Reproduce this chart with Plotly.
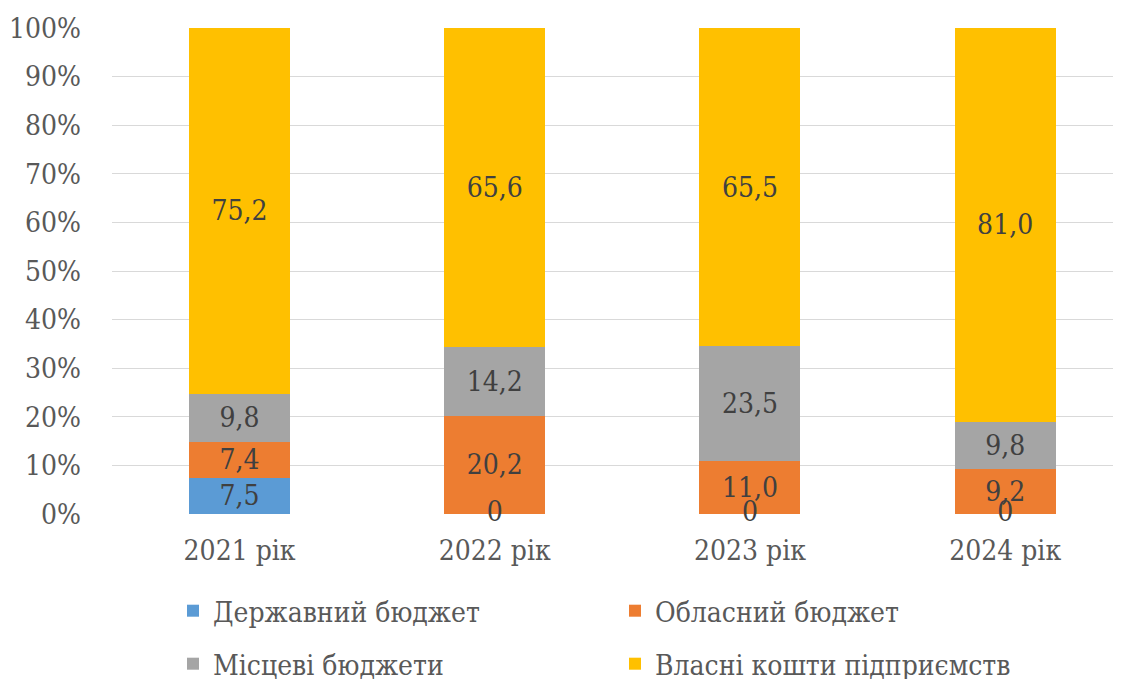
import plotly.graph_objects as go

years = ["2021 рік", "2022 рік", "2023 рік", "2024 рік"]
series_names = ["Державний бюджет", "Обласний бюджет", "Місцеві бюджети", "Власні кошти підприємств"]
derzh = [7.5, 0, 0, 0]
oblas = [7.4, 20.2, 11.0, 9.2]
mists = [9.8, 14.2, 23.5, 9.8]
vlasni = [75.2, 65.6, 65.5, 81.0]
tick_vals = [0, 10, 20, 30, 40, 50, 60, 70, 80, 90, 100]
tick_text = ["0%", "10%", "20%", "30%", "40%", "50%", "60%", "70%", "80%", "90%", "100%"]

colors = ["#5B9BD5", "#ED7D31", "#A5A5A5", "#FFC000"]
FONT = "DejaVu Serif Condensed"
LABEL_COLOR = "#404040"
AXIS_COLOR = "#595959"

# page body has an 8px margin; size the figure to fit the window
W, H = 1113, 671


def fmt(v):
    if v == 0:
        return "0"
    return f"{v:.1f}".replace(".", ",")


all_series = [derzh, oblas, mists, vlasni]
fig = go.Figure()
for i, (name, vals, col) in enumerate(zip(series_names, all_series, colors)):
    fig.add_trace(go.Bar(
        x=years, y=vals, name=name,
        marker=dict(color=col, line=dict(width=0)),
        text=[fmt(v) if v != 0 else "" for v in vals],
        textposition="inside", insidetextanchor="middle",
        textangle=0, constraintext="none",
        textfont=dict(family=FONT, size=28, color=LABEL_COLOR),
        legend="legend" if i < 2 else "legend2",
        hoverinfo="skip",
    ))

# labels for zero values, placed at the stack base
zx, zy, zt = [], [], []
for j, y in enumerate(years):
    base = 0
    for vals in all_series:
        if vals[j] == 0:
            zx.append(y); zy.append(base); zt.append(fmt(0))
        base += vals[j]
fig.add_trace(go.Scatter(
    x=zx, y=zy, text=zt, mode="text", textposition="middle center",
    textfont=dict(family=FONT, size=28, color=LABEL_COLOR),
    showlegend=False, cliponaxis=False, hoverinfo="skip",
))

fig.update_layout(
    width=W, height=H,
    margin=dict(l=104, r=0, t=20, b=165, autoexpand=False),
    paper_bgcolor="white", plot_bgcolor="white",
    barmode="stack", barnorm="percent", bargap=0.604,
    font=dict(family=FONT, size=28, color=AXIS_COLOR),
    xaxis=dict(range=[-0.5, 3.454], showgrid=False, zeroline=False, showline=False,
               ticks="", ticklabelstandoff=17,
               tickfont=dict(family=FONT, size=28, color=AXIS_COLOR)),
    yaxis=dict(range=[0, 100], tickvals=tick_vals, ticktext=tick_text,
               showgrid=True, gridcolor="#D9D9D9", gridwidth=1.3,
               zeroline=False, showline=False, ticks="", ticklabelstandoff=30,
               tickfont=dict(family=FONT, size=28, color=AXIS_COLOR)),
    legend=dict(orientation="h", xref="container", yref="container",
                x=165 / W, y=1 - 603 / H, xanchor="left", yanchor="middle",
                entrywidth=397, traceorder="normal",
                font=dict(family=FONT, size=28, color=AXIS_COLOR),
                bgcolor="rgba(0,0,0,0)"),
    legend2=dict(orientation="h", xref="container", yref="container",
                 x=165 / W, y=1 - 656 / H, xanchor="left", yanchor="middle",
                 entrywidth=397, traceorder="normal",
                 font=dict(family=FONT, size=28, color=AXIS_COLOR),
                 bgcolor="rgba(0,0,0,0)"),
    showlegend=True,
)

fig.write_html("out.html")
